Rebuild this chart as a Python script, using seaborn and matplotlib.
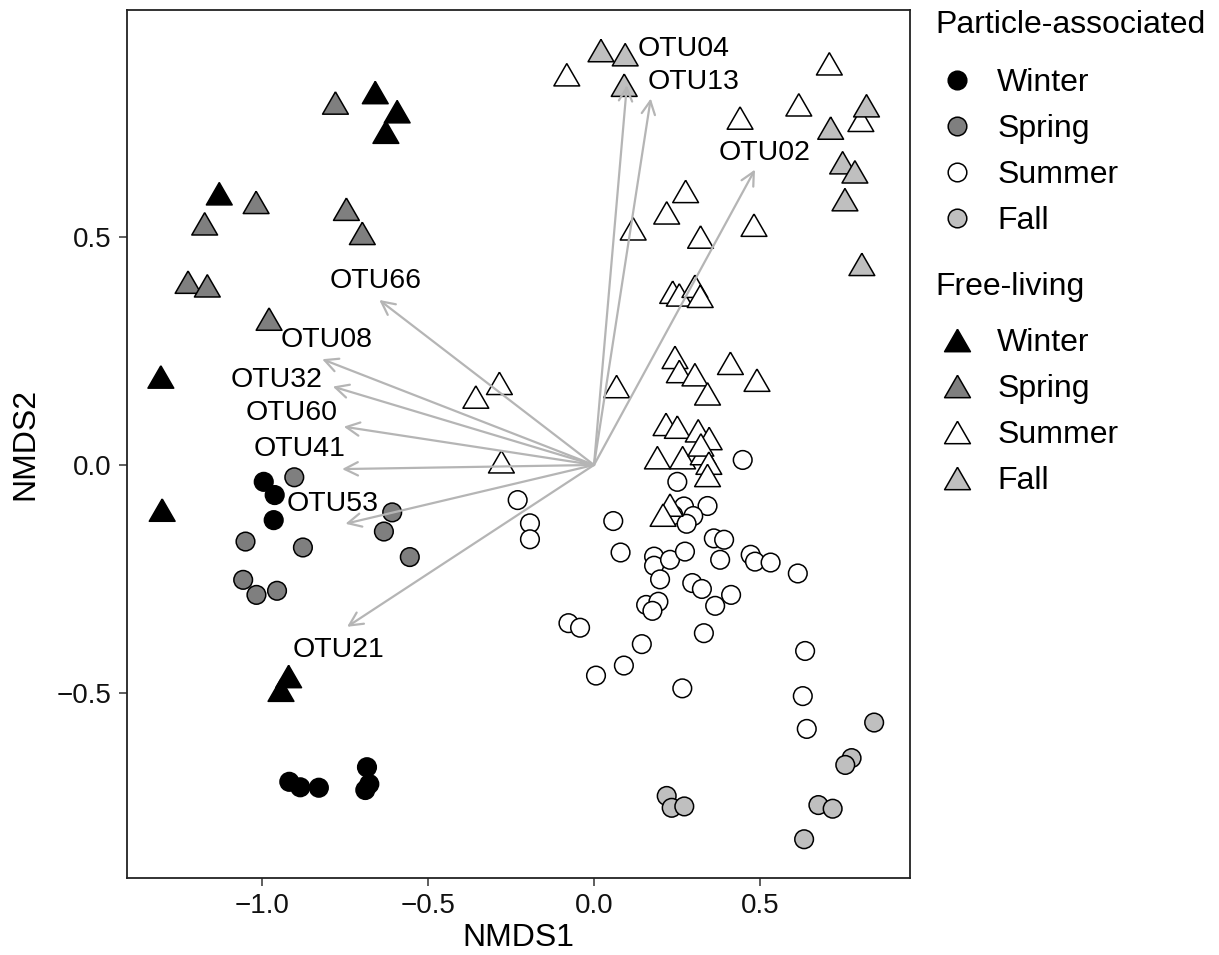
import numpy as np
import pandas as pd
import seaborn as sns
import matplotlib.pyplot as plt
from matplotlib.lines import Line2D

# ---------------- data ----------------
seasons = ["Winter", "Spring", "Summer", "Fall"]
fractions = ["Particle-associated", "Free-living"]

pa_winter_x = [-0.995, -0.962, -0.965, -0.918, -0.885, -0.829, -0.684, -0.677, -0.689]
pa_winter_y = [-0.037, -0.066, -0.121, -0.695, -0.707, -0.708, -0.663, -0.700, -0.713]

pa_spring_x = [-0.903, -0.608, -0.633, -0.555, -1.050, -0.877, -1.057, -1.017, -0.955]
pa_spring_y = [-0.027, -0.104, -0.146, -0.202, -0.168, -0.181, -0.252, -0.285, -0.276]

pa_summer_x = [0.448, 0.251, -0.230, -0.193, -0.193, 0.058, 0.271, 0.342, 0.299, 0.239,
               0.279, 0.361, 0.392, 0.080, 0.181, 0.181, 0.229, 0.274, 0.380, 0.472,
               0.485, 0.532, 0.614, 0.199, 0.296, 0.325, 0.413, 0.365, 0.157, 0.194,
               0.176, -0.077, -0.042, 0.144, 0.331, 0.090, 0.006, 0.266, 0.636, 0.629,
               0.641]
pa_summer_y = [0.011, -0.037, -0.077, -0.128, -0.163, -0.123, -0.091, -0.090, -0.112, -0.110,
               -0.129, -0.161, -0.164, -0.192, -0.201, -0.221, -0.208, -0.190, -0.208, -0.197,
               -0.212, -0.214, -0.238, -0.251, -0.259, -0.272, -0.285, -0.309, -0.307, -0.300,
               -0.320, -0.347, -0.357, -0.393, -0.369, -0.440, -0.462, -0.490, -0.408, -0.507,
               -0.579]

pa_fall_x = [0.844, 0.776, 0.757, 0.219, 0.234, 0.272, 0.676, 0.719, 0.633]
pa_fall_y = [-0.565, -0.643, -0.658, -0.726, -0.752, -0.749, -0.746, -0.754, -0.821]

fl_winter_x = [-0.659, -0.593, -0.627, -1.129, -1.305, -1.301, -0.920, -0.943]
fl_winter_y = [0.817, 0.775, 0.730, 0.595, 0.193, -0.099, -0.464, -0.494]

fl_spring_x = [-0.779, -1.018, -1.173, -0.746, -0.698, -1.223, -1.165, -0.979]
fl_spring_y = [0.794, 0.576, 0.529, 0.561, 0.508, 0.401, 0.393, 0.320]

fl_summer_x = [-0.082, 0.709, 0.617, 0.804, 0.440, 0.276, 0.219, 0.118, 0.321, 0.482,
               0.237, 0.257, 0.304, 0.320, -0.285, -0.356, 0.068, 0.244, 0.257, 0.304,
               0.342, 0.411, 0.491, 0.217, 0.251, 0.314, 0.347, -0.279, 0.191, 0.267,
               0.329, 0.322, 0.346, 0.342, 0.229, 0.208]
fl_summer_y = [0.856, 0.880, 0.790, 0.756, 0.761, 0.600, 0.553, 0.518, 0.500, 0.526,
               0.379, 0.373, 0.392, 0.370, 0.179, 0.149, 0.172, 0.236, 0.205, 0.198,
               0.156, 0.223, 0.186, 0.089, 0.083, 0.075, 0.058, 0.007, 0.016, 0.016,
               0.025, 0.044, 0.004, -0.023, -0.088, -0.110]

fl_fall_x = [0.021, 0.094, 0.091, 0.821, 0.713, 0.749, 0.786, 0.756, 0.807]
fl_fall_y = [0.909, 0.900, 0.833, 0.788, 0.739, 0.663, 0.643, 0.582, 0.440]

otu_names = ["OTU66", "OTU08", "OTU32", "OTU60", "OTU41", "OTU53", "OTU21", "OTU04", "OTU13", "OTU02"]
otu_x = [-0.647, -0.819, -0.787, -0.754, -0.759, -0.749, -0.744, 0.099, 0.171, 0.485]
otu_y = [0.362, 0.232, 0.172, 0.084, -0.009, -0.129, -0.355, 0.833, 0.804, 0.648]
otu_label_x = [-0.657, -0.807, -0.956, -0.910, -0.887, -0.788, -0.771, 0.271, 0.300, 0.514]
otu_label_y = [0.404, 0.274, 0.186, 0.114, 0.035, -0.086, -0.406, 0.912, 0.840, 0.684]

x_ticks = [-1.0, -0.5, 0.0, 0.5]
x_tick_labels = ["\u22121.0", "\u22120.5", "0.0", "0.5"]
y_ticks = [-0.5, 0.0, 0.5]
y_tick_labels = ["\u22120.5", "0.0", "0.5"]

# ---------------- build table ----------------
groups = [
    ("Particle-associated", "Winter", pa_winter_x, pa_winter_y),
    ("Particle-associated", "Spring", pa_spring_x, pa_spring_y),
    ("Particle-associated", "Summer", pa_summer_x, pa_summer_y),
    ("Particle-associated", "Fall", pa_fall_x, pa_fall_y),
    ("Free-living", "Winter", fl_winter_x, fl_winter_y),
    ("Free-living", "Spring", fl_spring_x, fl_spring_y),
    ("Free-living", "Summer", fl_summer_x, fl_summer_y),
    ("Free-living", "Fall", fl_fall_x, fl_fall_y),
]
rows = []
for frac, season, xs, ys in groups:
    for x, y in zip(xs, ys):
        rows.append({"NMDS1": x, "NMDS2": y, "Fraction": frac, "Season": season})
df = pd.DataFrame(rows)

# ---------------- style ----------------
sns.set_theme(style="white")
plt.rcParams['font.family'] = ['Liberation Sans', 'DejaVu Sans']
plt.rcParams['text.color'] = 'black'
plt.rcParams['axes.labelcolor'] = 'black'

season_colors = {"Winter": "#000000", "Spring": "#7f7f7f", "Summer": "#ffffff", "Fall": "#bfbfbf"}
tri = [(0.0, 0.433), (-0.5, -0.433), (0.5, -0.433), (0.0, 0.433)]
markers = {"Particle-associated": "o", "Free-living": tri}
sizes = {"Particle-associated": 180, "Free-living": 345}

fig = plt.figure(figsize=(12.19, 9.55), dpi=100)
ax = fig.add_axes([127 / 1219, 77 / 955, 783 / 1219, 868 / 955])

sns.scatterplot(data=df, x="NMDS1", y="NMDS2", hue="Season", style="Fraction",
                size="Fraction", palette=season_colors, markers=markers, sizes=sizes,
                edgecolor="black", linewidth=1.1, legend=False, ax=ax, zorder=2)

for name, tx, ty, lx, ly in zip(otu_names, otu_x, otu_y, otu_label_x, otu_label_y):
    ax.annotate("", xy=(tx, ty), xytext=(0, 0),
                arrowprops=dict(arrowstyle="->,head_length=0.8,head_width=0.4",
                                color="#b5b5b5", lw=1.6, shrinkA=0, shrinkB=0),
                zorder=3)
    ax.text(lx, ly, name, ha="center", va="center", fontsize=20.5, color="black", zorder=4)

ax.set_xlim(-1.407, 0.952)
ax.set_ylim(-0.906, 0.998)
ax.set_xticks(x_ticks)
ax.set_xticklabels(x_tick_labels)
ax.set_yticks(y_ticks)
ax.set_yticklabels(y_tick_labels)
ax.tick_params(axis="both", which="major", direction="out", length=6, width=1.1,
               color="#333333", labelsize=20, labelcolor="#111111", pad=5, bottom=True, left=True)
for sp in ax.spines.values():
    sp.set_color("#222222")
    sp.set_linewidth(1.3)
ax.set_xlabel("NMDS1", fontsize=23, labelpad=3)
ax.set_ylabel("NMDS2", fontsize=23, labelpad=12)
ax.grid(False)

# ---------------- legends ----------------
def handles_for(frac):
    hs = []
    for s in seasons:
        if frac == "Particle-associated":
            hs.append(Line2D([], [], linestyle="", marker="o", markersize=13.4,
                             markerfacecolor=season_colors[s], markeredgecolor="black",
                             markeredgewidth=1.1))
        else:
            hs.append(Line2D([], [], linestyle="", marker=tri, markersize=18.6,
                             markerfacecolor=season_colors[s], markeredgecolor="black",
                             markeredgewidth=1.1))
    return hs

common = dict(frameon=False, fontsize=23, labelcolor="black",
              handlelength=1.38, handletextpad=0.565, labelspacing=0.5,
              borderpad=0, borderaxespad=0, loc="upper left")
fig.text(935 / 1219, 1 - 25 / 955, "Particle-associated", fontsize=23, ha="left", va="center")
fig.text(935 / 1219, 1 - 287 / 955, "Free-living", fontsize=23, ha="left", va="center")
leg1 = fig.legend(handles_for("Particle-associated"), seasons,
                  bbox_to_anchor=(935 / 1219, 1 - 68 / 955), **common)
leg2 = fig.legend(handles_for("Free-living"), seasons,
                  bbox_to_anchor=(935 / 1219, 1 - 328 / 955), **common)

fig.savefig("out.png", dpi=100)
